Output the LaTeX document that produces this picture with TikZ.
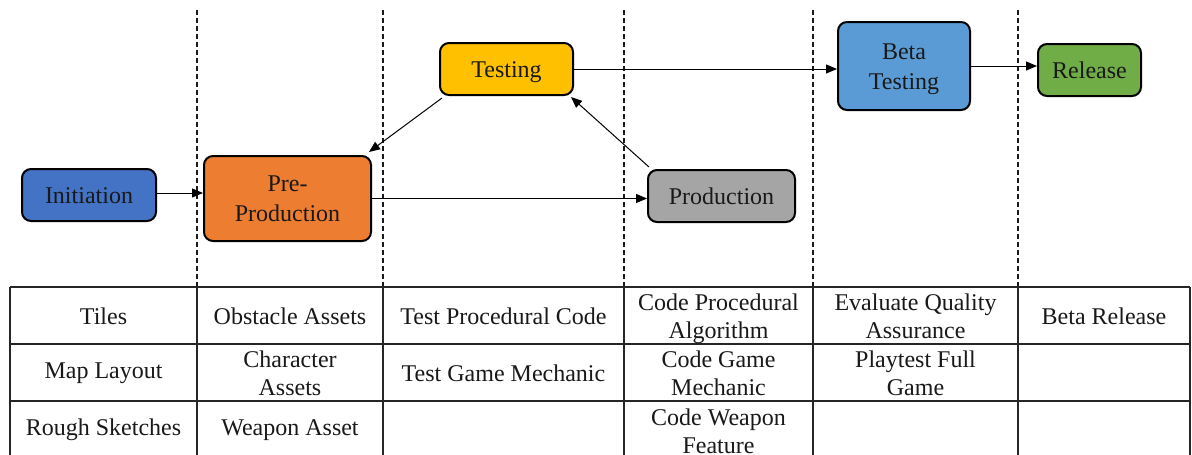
\documentclass[tikz,border=0pt]{standalone}
\usepackage{fontspec}
\setmainfont{Liberation Serif}
\newfontfamily\timesface{Liberation Serif}
\usetikzlibrary{arrows.meta}
\definecolor{cInit}{HTML}{4472C4}
\definecolor{cPre}{HTML}{ED7D31}
\definecolor{cTest}{HTML}{FFC000}
\definecolor{cProd}{HTML}{A5A5A5}
\definecolor{cBeta}{HTML}{5B9BD5}
\definecolor{cRel}{HTML}{70AD47}
\begin{document}
\begin{tikzpicture}[x=1pt,y=-1pt,
  phase/.style={draw=black, line width=2pt, rounded corners=9pt, align=center,
    inner sep=0pt, font=\timesface\fontsize{24}{30}\selectfont, text=black!90,
    text height=21.4pt, text depth=5.2pt},
  twoline/.style={text height=51.4pt},
  flow/.style={line width=1pt, -{Triangle[length=11pt,width=9pt]}},
  divider/.style={line width=1.2pt, dash pattern=on 5pt off 3pt, black!90},
  grid/.style={line width=1.3pt, black!85},
  cell/.style={align=center, inner sep=0pt, font=\timesface\fontsize{24}{28}\selectfont, text=black!90}]
\useasboundingbox (0,0) rectangle (1192,455);
\clip (0,0) rectangle (1192,455);
\fill[white] (0,0) rectangle (1192,455);

% phase separators
\foreach \x in {197,383,624,813,1018}
  \draw[divider] (\x,10) -- (\x,287);

% phases
\node[phase, fill=cInit, minimum width=134pt, minimum height=52pt] (init) at (89,195) {Initiation};
\node[phase, twoline, fill=cPre, minimum width=167pt, minimum height=85pt] (pre) at (287.5,198.5) {Pre-\\Production};
\node[phase, fill=cTest, minimum width=133pt, minimum height=52pt] (test) at (506.5,69) {Testing};
\node[phase, fill=cProd, minimum width=147pt, minimum height=52pt] (prod) at (721.5,196) {Production};
\node[phase, twoline, fill=cBeta, minimum width=132pt, minimum height=88pt] (beta) at (904,66) {Beta\\Testing};
\node[phase, fill=cRel, minimum width=103pt, minimum height=52pt] (rel) at (1089.5,70) {Release};

% flow between phases
\draw[flow] (init.east |- 0,193) -- (pre.west |- 0,193);
\draw[flow] ([shift={(3pt,-2pt)}]test.south west) -- ([shift={(-3pt,3pt)}]pre.north east);
\draw[flow] (pre.east) -- (prod.west |- pre.east);
\draw[flow] ([shift={(2pt,2pt)}]prod.north west) -- ([shift={(-3pt,-1pt)}]test.south east);
\draw[flow] (test.east) -- (beta.west |- test.east);
\draw[flow] (beta.east) -- (rel.west |- beta.east);

% task table
\foreach \y in {287,344,401}
  \draw[grid] (10,\y) -- (1190,\y);
\foreach \x in {10,197,383,624,813,1018,1190}
  \draw[grid] (\x,287) -- (\x,460);

\node[cell] (t11) at (103.5,316) {Tiles};
\node[cell] (t12) at (290,316) {Obstacle Assets};
\node[cell] (t13) at (503.5,316) {Test Procedural Code};
\node[cell] (t14) at (718.5,318.5) {Code Procedural\\Algorithm};
\node[cell] (t15) at (915.5,316) {Evaluate Quality\\Assurance};
\node[cell] (t16) at (1104,316) {Beta Release};

\node[cell] (t21) at (103.5,373) {Map Layout};
\node[cell] (t22) at (290,373) {Character\\Assets};
\node[cell] (t23) at (503.5,373) {Test Game Mechanic};
\node[cell] (t24) at (718.5,373) {Code Game\\Mechanic};
\node[cell] (t25) at (915.5,373) {Playtest Full\\Game};

\node[cell] (t31) at (103.5,430) {Rough Sketches};
\node[cell] (t32) at (290,430) {Weapon Asset};
\node[cell] (t34) at (718.5,431) {Code Weapon\\Feature};
\end{tikzpicture}
\end{document}
